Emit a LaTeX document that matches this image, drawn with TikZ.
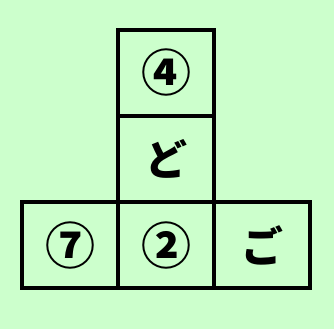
\documentclass[tikz,border=0pt]{standalone}
\usepackage{fontspec}
\newfontfamily\jpfont{Noto Sans CJK JP}
\definecolor{bgmint}{HTML}{CCFFCC}

\begin{document}
\begin{tikzpicture}[x=1pt, y=1pt,
  every node/.style={font=\jpfont\bfseries\fontsize{42}{42}\selectfont},
  cell/.style={draw, line width=3.2pt, minimum width=96pt, minimum height=86pt, outer sep=0pt, inner sep=0pt},
  circled/.style={cell, font=\jpfont\bfseries\fontsize{50}{50}\selectfont}]
\fill[bgmint] (0,0) rectangle (334,329);
\useasboundingbox (0,0) rectangle (334,329);
\node[circled] (top) at (166,256) {④};
\node[cell] (mid) at (166,170) {ど};
\node[circled] (left) at (70,84) {⑦};
\node[circled] (bot) at (166,84) {②};
\node[cell] (right) at (262,84) {ご};
\end{tikzpicture}
\end{document}
